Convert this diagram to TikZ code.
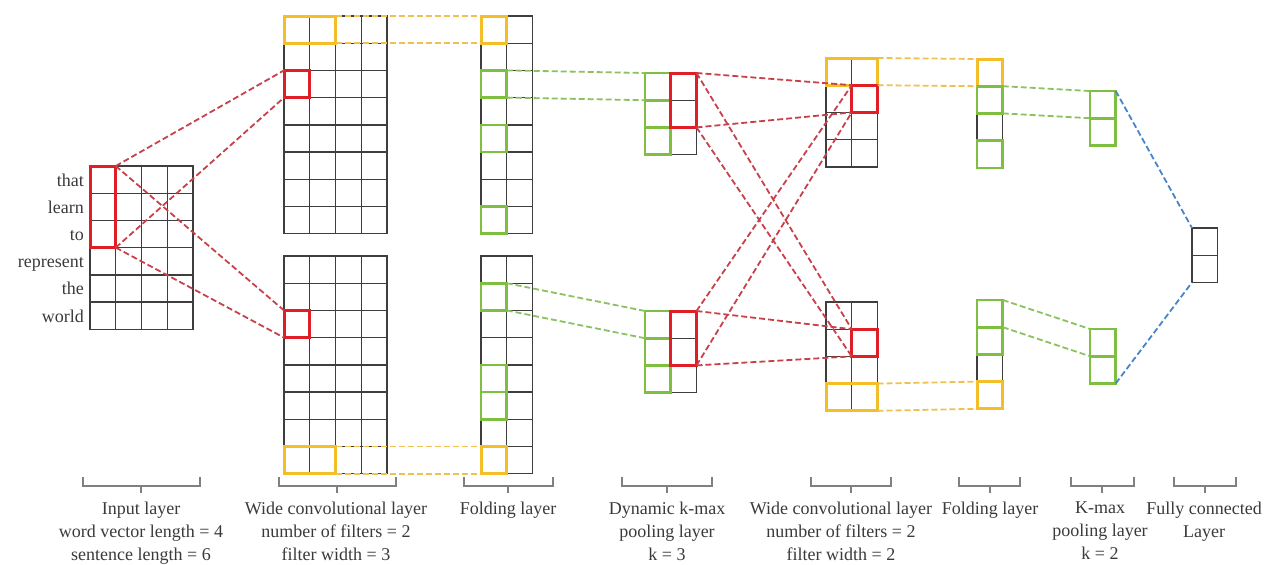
\documentclass[tikz,border=0pt]{standalone}
\usepackage{fontspec}
\setmainfont{Liberation Serif}
\usetikzlibrary{calc}

\definecolor{boxred}{RGB}{224,30,38}
\definecolor{linkred}{RGB}{200,64,74}
\definecolor{boxyellow}{RGB}{244,190,40}
\definecolor{linkyellow}{RGB}{240,192,80}
\definecolor{boxgreen}{RGB}{126,190,64}
\definecolor{linkgreen}{RGB}{140,192,96}
\definecolor{linkblue}{RGB}{72,132,200}
\definecolor{cellgray}{RGB}{62,62,62}
\definecolor{textgray}{RGB}{58,58,58}

\newcommand{\cellw}{25.75}
\newcommand{\cellh}{27.2}

\tikzset{
  cellline/.style={draw=cellgray, line width=1.4pt},
  gridframe/.style={inner sep=0pt, outer sep=0pt, anchor=north west},
  hbox/.style={draw, line width=3pt, inner sep=0pt, outer sep=0pt, anchor=north west},
  redbox/.style={hbox, draw=boxred},
  yellowbox/.style={hbox, draw=boxyellow},
  greenbox/.style={hbox, draw=boxgreen, line width=2.6pt},
  link/.style={dash pattern=on 6pt off 3pt, line width=1.8pt},
  redlink/.style={link, draw=linkred},
  yellowlink/.style={link, draw=linkyellow},
  greenlink/.style={link, draw=linkgreen},
  bluelink/.style={link, draw=linkblue},
  brace/.style={draw=gray, line width=1.2pt},
  layertext/.style={anchor=north, align=center, inner sep=0pt, text=textgray, font=\fontsize{18}{23}\selectfont},
  wordtext/.style={anchor=east, inner sep=0pt, text height=13pt, text depth=0pt, text=textgray, font=\fontsize{18}{23}\selectfont}
}

\newcommand{\cellgrid}[5]{%
  \node[gridframe, minimum width={#4*\cellw pt}, minimum height={#5*\cellh pt}] (#1) at (#2,#3) {};
  \foreach \i in {1,...,#4}{\foreach \j in {1,...,#5}{
    \draw[cellline] ($(#1.north west)+({(\i-1)*\cellw},{(\j-1)*\cellh})$) rectangle +(\cellw,\cellh);}}%
}
\newcommand{\pickcell}[7]{%
  \node[#1, minimum width={#6*\cellw pt}, minimum height={#7*\cellh pt}] (#2) at ($(#3.north west)+({#4*\cellw},{#5*\cellh})$) {};%
}

\begin{document}
\begin{tikzpicture}[x=1pt, y=-1pt]
\useasboundingbox (0,0) rectangle (1278,565);

\cellgrid{in}{90}{166}{4}{6}
\cellgrid{convA}{284}{16}{4}{8}
\cellgrid{convB}{284}{256}{4}{8}
\cellgrid{foldA}{481}{16}{2}{8}
\cellgrid{foldB}{481}{256}{2}{8}
\cellgrid{poolA}{645}{73}{2}{3}
\cellgrid{poolB}{645}{311}{2}{3}
\cellgrid{convC}{826}{58}{2}{4}
\cellgrid{convD}{826}{302}{2}{4}
\cellgrid{foldC}{977}{59}{1}{4}
\cellgrid{foldD}{977}{300}{1}{4}
\cellgrid{kmaxA}{1090}{91}{1}{2}
\cellgrid{kmaxB}{1090}{329}{1}{2}
\cellgrid{full}{1192}{228}{1}{2}

\foreach \w [count=\n from 0] in {that,learn,to,represent,the,world}
  \node[wordtext] (word\n) at ($(in.north west)+(-6,{(\n+0.5)*\cellh})$) {\w};

\pickcell{yellowbox}{convAY}{convA}{0}{0}{2}{1}
\pickcell{yellowbox}{convBY}{convB}{0}{7}{2}{1}
\pickcell{yellowbox}{foldAY}{foldA}{0}{0}{1}{1}
\pickcell{yellowbox}{foldBY}{foldB}{0}{7}{1}{1}
\foreach \n in {2,4,7} {\pickcell{greenbox}{foldAG\n}{foldA}{0}{\n}{1}{1}}
\foreach \n in {1,4,5} {\pickcell{greenbox}{foldBG\n}{foldB}{0}{\n}{1}{1}}
\foreach \n in {0,1,2} {\pickcell{greenbox}{poolAG\n}{poolA}{0}{\n}{1}{1}
  \pickcell{greenbox}{poolBG\n}{poolB}{0}{\n}{1}{1}}
\pickcell{yellowbox}{convCY}{convC}{0}{0}{2}{1}
\pickcell{yellowbox}{convDY}{convD}{0}{3}{2}{1}
\pickcell{yellowbox}{foldCY}{foldC}{0}{0}{1}{1}
\pickcell{yellowbox}{foldDY}{foldD}{0}{3}{1}{1}
\pickcell{greenbox}{foldCG1}{foldC}{0}{1}{1}{1}
\pickcell{greenbox}{foldCG3}{foldC}{0}{3}{1}{1}
\pickcell{greenbox}{foldDG0}{foldD}{0}{0}{1}{1}
\pickcell{greenbox}{foldDG1}{foldD}{0}{1}{1}{1}
\foreach \n in {0,1} {\pickcell{greenbox}{kmaxAG\n}{kmaxA}{0}{\n}{1}{1}
  \pickcell{greenbox}{kmaxBG\n}{kmaxB}{0}{\n}{1}{1}}

\pickcell{redbox}{inR}{in}{0}{0}{1}{3}
\pickcell{redbox}{convAR}{convA}{0}{2}{1}{1}
\pickcell{redbox}{convBR}{convB}{0}{2}{1}{1}
\pickcell{redbox}{poolAR}{poolA}{1}{0}{1}{2}
\pickcell{redbox}{poolBR}{poolB}{1}{0}{1}{2}
\pickcell{redbox}{convCR}{convC}{1}{1}{1}{1}
\pickcell{redbox}{convDR}{convD}{1}{1}{1}{1}

\foreach \dst in {convAR,convBR} {
  \draw[redlink] (inR.north east) -- (\dst.north west);
  \draw[redlink] (inR.south east) -- (\dst.south west);}
\draw[yellowlink] (convAY.north east) -- (foldAY.north west);
\draw[yellowlink] (convAY.south east) -- (foldAY.south west);
\draw[yellowlink] (convBY.north east) -- (foldBY.north west);
\draw[yellowlink] (convBY.south east) -- (foldBY.south west);
\draw[greenlink] (foldAG2.north east) -- (poolAG0.north west);
\draw[greenlink] (foldAG2.south east) -- (poolAG0.south west);
\draw[greenlink] (foldBG1.north east) -- (poolBG0.north west);
\draw[greenlink] (foldBG1.south east) -- (poolBG0.south west);
\foreach \src in {poolAR,poolBR} \foreach \dst in {convCR,convDR} {
  \draw[redlink] (\src.north east) -- (\dst.north west);
  \draw[redlink] (\src.south east) -- (\dst.south west);}
\draw[yellowlink] (convCY.north east) -- (foldCY.north west);
\draw[yellowlink] (convCY.south east) -- (foldCY.south west);
\draw[yellowlink] (convDY.north east) -- (foldDY.north west);
\draw[yellowlink] (convDY.south east) -- (foldDY.south west);
\draw[greenlink] (foldCG1.north east) -- (kmaxAG0.north west);
\draw[greenlink] (foldCG1.south east) -- (kmaxAG0.south west);
\draw[greenlink] (foldDG0.north east) -- (kmaxBG0.north west);
\draw[greenlink] (foldDG0.south east) -- (kmaxBG0.south west);
\draw[bluelink] (kmaxAG0.north east) -- (full.north west);
\draw[bluelink] (kmaxBG1.south east) -- (full.south west);

\foreach \bl/\br/\bm in {83/200/141, 279/396/337, 464/553/508, 622/712/667, 811/891/851, 959/1020/990, 1071/1134/1102, 1174/1236/1205} {
  \draw[brace] (\bl,477) |- (\br,486) -- (\br,477);
  \draw[brace] (\bm,486) -- (\bm,493);}

\node[layertext] (inLabel) at (141,502) {Input layer\\word vector length = 4\\sentence length = 6};
\node[layertext] (convALabel) at (336,502) {Wide convolutional layer\\number of filters = 2\\filter width = 3};
\node[layertext] (foldALabel) at (508,502) {Folding layer};
\node[layertext] (poolLabel) at (667,502) {Dynamic k-max\\pooling layer\\k = 3};
\node[layertext] (convCLabel) at (841,502) {Wide convolutional layer\\number of filters = 2\\filter width = 2};
\node[layertext] (foldCLabel) at (990,502) {Folding layer};
\node[layertext] (kmaxLabel) at (1100,502) {K-max\\pooling layer\\k = 2};
\node[layertext] (fullLabel) at (1204,502) {Fully connected\\Layer};
\end{tikzpicture}
\end{document}
